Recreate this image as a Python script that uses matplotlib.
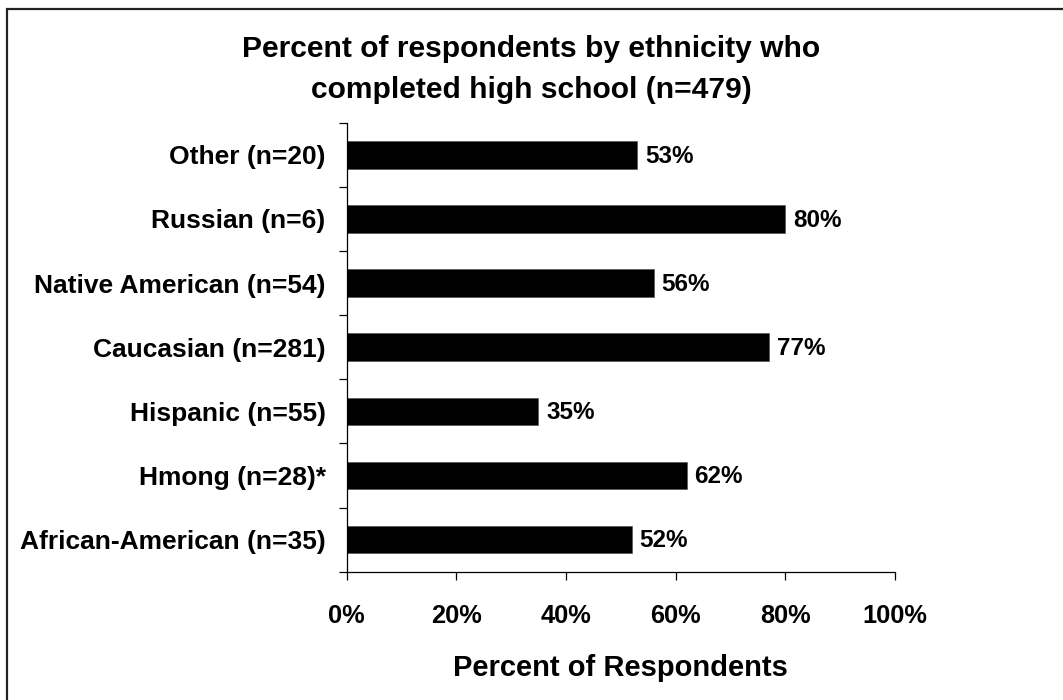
import matplotlib.pyplot as plt
import matplotlib.patches as mpatches
import numpy as np

plt.rcParams['font.family'] = ['Liberation Sans', 'DejaVu Sans']
plt.rcParams['font.weight'] = 'bold'

# groups listed top to bottom as they appear on the chart
groups = ['Other (n=20)', 'Russian (n=6)', 'Native American (n=54)',
          'Caucasian (n=281)', 'Hispanic (n=55)', 'Hmong (n=28)*',
          'African-American (n=35)']
pct_completed = [53, 80, 56, 77, 35, 62, 52]
xtick_vals = [0, 20, 40, 60, 80, 100]

W, H = 1063, 700
fig = plt.figure(figsize=(W / 100, H / 100), dpi=100)
ax = fig.add_axes([346.5 / W, 1 - 571.7 / H, (895 - 346.5) / W, (571.7 - 122.7) / H])

ypos = np.arange(len(groups))
vals = np.array(pct_completed) / 100.0
ax.barh(ypos, vals, height=0.43, color='black', edgecolor='#555555', linewidth=0.5)

for y, v, p in zip(ypos, vals, pct_completed):
    ax.text(v + 0.014, y + 0.02, f'{p}%', va='center', ha='left',
            fontsize=17.5, fontweight='bold')

ax.set_xlim(0, 1)
ax.set_ylim(len(groups) - 0.5, -0.5)

ax.set_xticks([v / 100 for v in xtick_vals])
ax.set_xticklabels([f'{v}%' for v in xtick_vals], fontsize=18.3, fontweight='bold')
ax.tick_params(axis='x', direction='out', length=6, width=0.9, pad=17)

# category labels centred on bars, tick marks between categories
ax.set_yticks(ypos)
ax.set_yticklabels(groups, fontsize=19, fontweight='bold')
ax.tick_params(axis='y', which='major', length=0, pad=15)
ax.set_yticks(np.arange(-0.5, len(groups)), minor=True)
ax.tick_params(axis='y', which='minor', direction='out', length=6, width=0.9)

for side in ['top', 'right']:
    ax.spines[side].set_visible(False)
for side in ['left', 'bottom']:
    ax.spines[side].set_linewidth(0.9)

ax.set_xlabel('Percent of Respondents', fontsize=21, fontweight='bold', labelpad=19)

fig.text(0.5, 1 - 56.7 / H, 'Percent of respondents by ethnicity who',
         ha='center', va='baseline', fontsize=21.6, fontweight='bold')
fig.text(0.5, 1 - 98.5 / H, 'completed high school (n=479)',
         ha='center', va='baseline', fontsize=21.6, fontweight='bold')

# chart frame (runs off the right and bottom edges)
frame = mpatches.Rectangle((7 / W, -0.2), 1.3, 1 - 9 / H + 0.2,
                           transform=fig.transFigure, fill=False,
                           edgecolor='#222222', linewidth=1.6)
fig.patches.append(frame)

fig.savefig('out.png', dpi=100)
